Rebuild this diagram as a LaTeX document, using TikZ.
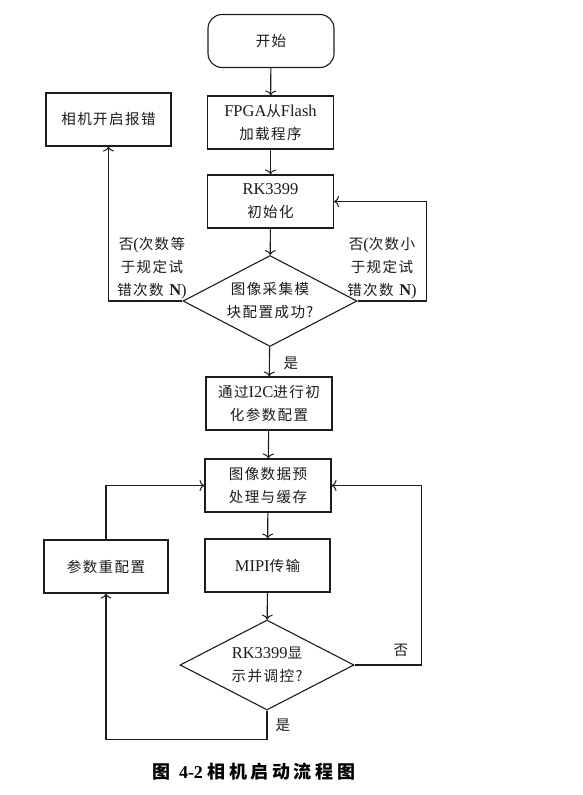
\documentclass[tikz,border=0pt]{standalone}
\usepackage{fontspec}
\setmainfont{Liberation Serif}
\newfontfamily\cjk[Scale=0.88,LetterSpace=10]{Noto Sans CJK SC}
\newfontfamily\capcjk[LetterSpace=20]{Noto Sans CJK SC}
\usetikzlibrary{shapes.geometric,arrows.meta}
\definecolor{inkgray}{RGB}{28,28,28}
\newcommand{\zh}[1]{{\cjk #1}}
\tikzset{
  procbox/.style={draw=inkgray,text=inkgray,minimum width=126pt,minimum height=53pt,
    align=center,inner sep=0pt},
  startbox/.style={procbox,rounded corners=14pt},
  testbox/.style={draw=inkgray,text=inkgray,diamond,aspect=1.9,minimum width=174pt,
    minimum height=91pt,align=center,inner sep=0pt},
  flow/.style={draw=inkgray,-{To[length=5pt,width=11pt,line width=1pt]}},
  branchtext/.style={text=inkgray,align=center}
}

\begin{document}
\begin{tikzpicture}[x=1pt,y=-1pt,line width=1.1pt,font=\fontsize{16.5}{23}\selectfont]
  \fill[white] (0,0) rectangle (583,795);
  \useasboundingbox (0,0) rectangle (583,795);
  \node[startbox] (start) at (271,41) {\zh{开始}};
  \node[procbox] (load) at (270.5,122.5) {FPGA\zh{从}Flash\\\zh{加载程序}};
  \node[procbox,minimum width=125pt] (err) at (108.5,119.5) {\zh{相机开启报错}};
  \node[procbox] (rkinit) at (270.5,201.5) {RK3399\\\zh{初始化}};
  \node[testbox] (cfgok) at (270,301) {\zh{图像采集模}\\\zh{块配置成功?}};
  \node[procbox] (i2c) at (269,403.5) {\zh{通过}I2C\zh{进行初}\\\zh{化参数配置}};
  \node[procbox] (buffer) at (268,485.5) {\zh{图像数据预}\\\zh{处理与缓存}};
  \node[procbox,minimum width=125pt] (mipi) at (267.5,565.5) {MIPI\zh{传输}};
  \node[procbox,minimum width=124pt] (reconf) at (106,566.5) {\zh{参数重配置}};
  \node[testbox,minimum height=90pt] (disp) at (267,665) {RK3399\zh{显}\\\zh{示并调控?}};

  \foreach \a/\b in {start/load,load/rkinit,rkinit/cfgok,cfgok/i2c,i2c/buffer,buffer/mipi,mipi/disp}{
    \draw[flow] (\a) -- (\b);
  }
  \draw[flow] (cfgok.west) -| (err.south);
  \draw[flow] (cfgok.east) -- ++(69,0) |- (rkinit.east);
  \draw[flow] (disp.east) -- ++(67,0) |- (buffer.east);
  \draw[flow] (disp.south) -- ++(0,29) -| (reconf.south);
  \draw[flow] (reconf.north) |- (buffer.west);

  \node[branchtext] (lnote) at (152,268) {\zh{否}(\zh{次数等}\\\zh{于规定试}\\\zh{错次数} \textbf{N})};
  \node[branchtext] (rnote) at (382,268) {\zh{否}(\zh{次数小}\\\zh{于规定试}\\\zh{错次数} \textbf{N})};
  \node[branchtext] (yesa) at (291,363) {\zh{是}};
  \node[branchtext] (noa) at (401,650) {\zh{否}};
  \node[branchtext] (yesb) at (283,725) {\zh{是}};
  \node[text=black] (cap) at (254,772) {\fontsize{18}{20}\selectfont{\capcjk\bfseries 图}\ \textbf{4-2} {\capcjk\bfseries 相机启动流程图}};
\end{tikzpicture}
\end{document}
